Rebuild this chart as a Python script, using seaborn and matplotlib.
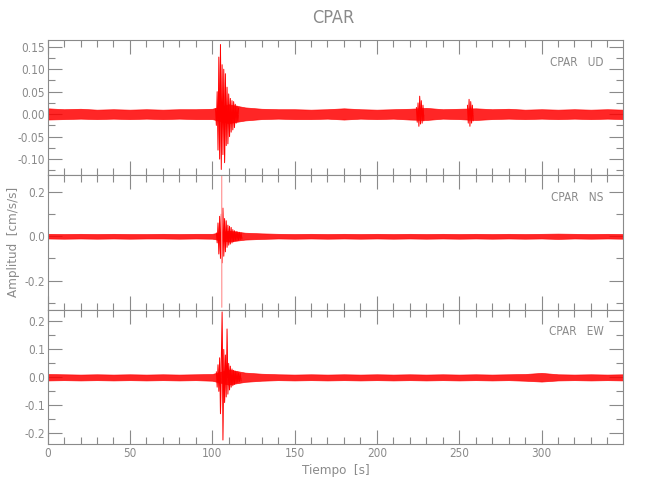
import numpy as np
import pandas as pd
import matplotlib
matplotlib.use("Agg")
import matplotlib.pyplot as plt
from matplotlib.ticker import MultipleLocator, FormatStrFormatter
import seaborn as sns

# --- data (amplitudes in cm/s/s, time in s) ---
components = ["UD", "NS", "EW"]

# background noise envelope, sampled every 10 s from 0 to 350 s
noise_t = np.arange(0, 351, 10)
ud_noise_hi = [0.013, 0.011, 0.012, 0.010, 0.011, 0.010, 0.011, 0.010, 0.011, 0.011,
               0.012, 0.022, 0.015, 0.012, 0.011, 0.011, 0.010, 0.011, 0.013, 0.011,
               0.010, 0.011, 0.012, 0.014, 0.011, 0.012, 0.013, 0.011, 0.012, 0.010,
               0.011, 0.010, 0.011, 0.010, 0.011, 0.010]
ud_noise_lo = [-0.012, -0.011, -0.010, -0.011, -0.010, -0.011, -0.010, -0.011, -0.010, -0.011,
               -0.011, -0.020, -0.014, -0.011, -0.010, -0.011, -0.011, -0.010, -0.012, -0.010,
               -0.011, -0.010, -0.012, -0.013, -0.010, -0.011, -0.013, -0.011, -0.010, -0.011,
               -0.010, -0.011, -0.010, -0.011, -0.010, -0.011]
ns_noise_hi = [0.011, 0.010, 0.011, 0.010, 0.011, 0.010, 0.010, 0.011, 0.010, 0.011,
               0.011, 0.025, 0.016, 0.013, 0.011, 0.010, 0.011, 0.010, 0.011, 0.010,
               0.011, 0.010, 0.011, 0.010, 0.011, 0.010, 0.011, 0.010, 0.011, 0.010,
               0.011, 0.012, 0.011, 0.010, 0.011, 0.010]
ns_noise_lo = [-0.010, -0.011, -0.010, -0.011, -0.010, -0.011, -0.010, -0.010, -0.011, -0.010,
               -0.011, -0.024, -0.015, -0.012, -0.010, -0.011, -0.010, -0.011, -0.010, -0.011,
               -0.010, -0.011, -0.010, -0.011, -0.010, -0.011, -0.010, -0.011, -0.010, -0.011,
               -0.010, -0.012, -0.010, -0.011, -0.010, -0.011]
ew_noise_hi = [0.012, 0.011, 0.010, 0.011, 0.010, 0.011, 0.010, 0.011, 0.010, 0.011,
               0.012, 0.028, 0.017, 0.013, 0.011, 0.010, 0.011, 0.010, 0.011, 0.010,
               0.011, 0.010, 0.011, 0.010, 0.011, 0.010, 0.011, 0.010, 0.011, 0.012,
               0.016, 0.011, 0.010, 0.011, 0.010, 0.011]
ew_noise_lo = [-0.011, -0.010, -0.011, -0.010, -0.011, -0.010, -0.011, -0.010, -0.011, -0.010,
               -0.012, -0.026, -0.016, -0.012, -0.010, -0.011, -0.010, -0.011, -0.010, -0.011,
               -0.010, -0.011, -0.010, -0.011, -0.010, -0.011, -0.010, -0.011, -0.010, -0.012,
               -0.015, -0.011, -0.010, -0.011, -0.010, -0.011]

# wave bursts, peak amplitudes every 0.5 s from the given start time
ud_main_start = 102.0
ud_main = [0.012, -0.025, 0.05, -0.08, 0.127, -0.10, 0.155, -0.123, 0.11, -0.09,
           0.10, -0.108, 0.09, -0.07, 0.06, -0.066, 0.045, -0.05, 0.035, -0.04,
           0.03, -0.035, 0.028, -0.03, 0.022, -0.02, 0.018, -0.016, 0.014]
ud_226_start = 224.0
ud_226 = [0.015, -0.018, 0.025, -0.027, 0.04, -0.022, 0.03, -0.02, 0.02, -0.015]
ud_257_start = 255.0
ud_257 = [0.02, -0.02, 0.033, -0.027, 0.028, -0.02, 0.02, -0.015]

ns_main_start = 102.5
ns_main = [0.015, -0.03, 0.06, -0.08, 0.09, -0.10, 0.10, -0.12, 0.127, -0.09,
           0.08, -0.07, 0.07, -0.05, 0.05, -0.04, 0.045, -0.035, 0.04, -0.03,
           0.03, -0.025, 0.025, -0.02, 0.022, -0.02, 0.02, -0.018, 0.018, -0.015,
           0.015, -0.013]
ns_spike_start = 105.75
ns_spike = [0.275, -0.32]

ew_main_start = 102.5
ew_main = [0.02, -0.035, 0.045, -0.05, 0.07, -0.13, 0.06, 0.234, -0.224, 0.10,
           -0.09, 0.08, -0.07, 0.173, -0.06, 0.05, -0.045, 0.04, -0.035, 0.03,
           -0.03, 0.025, -0.025, 0.022, -0.02, 0.02, -0.018, 0.016, -0.015, 0.014,
           -0.013]

ylims = {"UD": (-0.135, 0.165), "NS": (-0.331, 0.277), "EW": (-0.24, 0.242)}
ymajor = {"UD": 0.05, "NS": 0.2, "EW": 0.1}
yfmt = {"UD": "%.2f", "NS": "%.1f", "EW": "%.1f"}

noise = {
    "UD": (ud_noise_lo, ud_noise_hi),
    "NS": (ns_noise_lo, ns_noise_hi),
    "EW": (ew_noise_lo, ew_noise_hi),
}
bursts = {
    "UD": [(ud_main_start, ud_main), (ud_226_start, ud_226), (ud_257_start, ud_257)],
    "NS": [(ns_main_start, ns_main)],
    "EW": [(ew_main_start, ew_main)],
}


def burst_frame(comp):
    rows = []
    for i, (t0, vals) in enumerate(bursts[comp]):
        t = t0 + 0.5 * np.arange(len(vals))
        rows.append(pd.DataFrame({"t": t, "amp": vals, "event": i}))
    return pd.concat(rows, ignore_index=True)


sns.set_style("ticks")
plt.rcParams["font.family"] = ["DejaVu Sans"]
plt.rcParams["font.stretch"] = "condensed"
grey = "#8a8a8a"

fig, axes = plt.subplots(3, 1, figsize=(6.5, 5), dpi=100, sharex=True)
fig.subplots_adjust(left=0.0732, right=0.959, top=0.92, bottom=0.111, hspace=0)

for ax, comp in zip(axes, components):
    lo, hi = noise[comp]
    ax.fill_between(noise_t, lo, hi, color="red", lw=0.5, edgecolor="red", alpha=0.85)
    df = burst_frame(comp)
    # fill each burst towards zero so the wave packet reads as a dense blob
    for _, g in df.groupby("event"):
        ax.fill_between(g["t"], 0, g["amp"], color="red", alpha=0.8, lw=0)
    sns.lineplot(data=df, x="t", y="amp", units="event",
                 estimator=None, color="red", lw=0.7, ax=ax)
    if comp == "NS":
        ax.plot(ns_spike_start + 0.05 * np.arange(len(ns_spike)), ns_spike,
                color="#ff9a9a", lw=0.9)

    ax.set_xlim(0, 349.7)
    ax.set_ylim(*ylims[comp])
    ax.set_xlabel("")
    ax.set_ylabel("")
    ax.xaxis.set_major_locator(MultipleLocator(50))
    ax.xaxis.set_minor_locator(MultipleLocator(10))
    ax.yaxis.set_major_locator(MultipleLocator(ymajor[comp]))
    ax.yaxis.set_minor_locator(MultipleLocator(ymajor[comp] / 2))
    ax.yaxis.set_major_formatter(FormatStrFormatter(yfmt[comp]))
    ax.tick_params(which="both", direction="in", top=True, right=True,
                   color=grey, labelcolor=grey, labelsize=8.5, pad=2, width=0.8)
    ax.tick_params(which="major", length=10)
    ax.tick_params(which="minor", length=5)
    for s in ax.spines.values():
        s.set_color(grey)
        s.set_linewidth(0.8)
    ax.text(0.966, 0.835, f"CPAR   {comp}", transform=ax.transAxes,
            ha="right", va="center", color=grey, fontsize=8.5)

axes[-1].set_xlabel("Tiempo  [s]", color=grey, fontsize=9.5, labelpad=3)
fig.text(0.512, 1 - 18 / 500, "CPAR", ha="center", va="center", color=grey, fontsize=13)
fig.text(14 / 650, 1 - 242 / 500, "Amplitud  [cm/s/s]", rotation=90,
         ha="center", va="center", color=grey, fontsize=9.5)

plt.savefig("out.png", dpi=100)
plt.close()
